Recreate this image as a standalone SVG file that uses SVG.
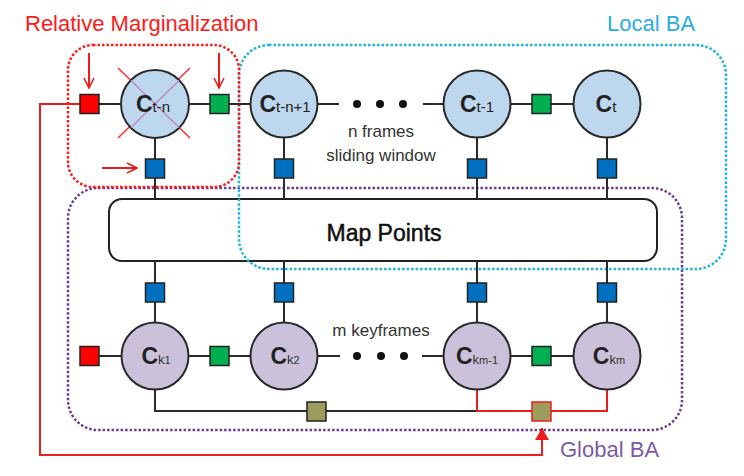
<svg xmlns="http://www.w3.org/2000/svg" width="744" height="476" viewBox="0 0 744 476">
<style>
text{font-family:"Liberation Sans",Arial,sans-serif;}
.ln{stroke:#2a2a2a;stroke-width:2;fill:none;}
.rl{stroke:#ee1c1c;stroke-width:2;fill:none;}
.cb{fill:#bdd7ee;stroke:#2a2a2a;stroke-width:2;}
.cp{fill:#ccc1da;stroke:#2a2a2a;stroke-width:2;}
.sq{stroke:#222;stroke-width:1.5;}
.red{fill:#ff0000;}
.grn{fill:#00b050;}
.blu{fill:#0070c0;}
.olv{fill:#9c9c5c;}
.C{font-size:23px;font-weight:bold;fill:#222;}
.s{font-size:15px;fill:#222;}
.sk{font-size:13px;fill:#333;}
.sm{font-size:11px;fill:#333;}
.lbl{font-size:17px;fill:#333;}
.dot{fill:#111;}
.dr{fill:none;stroke-width:2.5;stroke-dasharray:2.5 2;}
</style>
<defs>
<marker id="oa" viewBox="0 0 12 12" refX="11" refY="6" markerWidth="12" markerHeight="12" markerUnits="userSpaceOnUse" orient="auto">
<path d="M1,1 L11,6 L1,11" fill="none" stroke="#ee1c1c" stroke-width="1.6"/>
</marker>
<marker id="fa" viewBox="0 0 12 14" refX="12" refY="7" markerWidth="12" markerHeight="14" markerUnits="userSpaceOnUse" orient="auto">
<path d="M0,0 L12,7 L0,14 Z" fill="#ee1c1c"/>
</marker>
</defs>
<rect width="744" height="476" fill="#ffffff"/>

<g id="map-points">
<rect x="109" y="199" width="548" height="62" rx="13" fill="#fff" stroke="#222" stroke-width="2"/>
<text x="384" y="241" text-anchor="middle" font-size="23" fill="#111" stroke="#111" stroke-width="0.5">Map Points</text>
</g>

<g id="regions">
<rect id="global-ba" x="68" y="188" width="614" height="242" rx="30" class="dr" stroke="#6a3d9a"/>
<rect id="local-ba" x="239" y="45" width="487" height="224" rx="30" class="dr" stroke="#1cb4e0"/>
<rect id="rel-marg" x="68" y="45" width="171" height="142" rx="25" class="dr" stroke="#ff1a1a"/>
<text x="25" y="31" font-size="22" fill="#ff1a1a">Relative Marginalization</text>
<text x="607" y="31" font-size="22" fill="#29aee0">Local BA</text>
<text x="560" y="457" font-size="22" fill="#7d5aa8">Global BA</text>
</g>

<g id="connectors">
<line class="ln" x1="99" y1="104" x2="121" y2="104"/>
<line class="ln" x1="189" y1="104" x2="210" y2="104"/>
<line class="ln" x1="229" y1="104" x2="251" y2="104"/>
<line class="ln" x1="317" y1="104" x2="339" y2="104"/>
<line class="ln" x1="423" y1="104" x2="443" y2="104"/>
<line class="ln" x1="510" y1="104" x2="532" y2="104"/>
<line class="ln" x1="551" y1="104" x2="573" y2="104"/>
<path class="ln" d="M155,138 V159 M155,178 V199 M284,138 V159 M284,178 V199 M477,138 V159 M477,178 V199 M607,138 V159 M607,178 V199"/>
<path class="ln" d="M155,261 V283 M155,302 V323 M284,261 V283 M284,302 V323 M477,261 V283 M477,302 V323 M607,261 V283 M607,302 V323"/>
<line class="ln" x1="99" y1="356" x2="121" y2="356"/>
<line class="ln" x1="189" y1="356" x2="210" y2="356"/>
<line class="ln" x1="229" y1="356" x2="251" y2="356"/>
<line class="ln" x1="318" y1="356" x2="340" y2="356"/>
<line class="ln" x1="422" y1="356" x2="443" y2="356"/>
<line class="ln" x1="510" y1="356" x2="532" y2="356"/>
<line class="ln" x1="551" y1="356" x2="574" y2="356"/>
<path class="ln" d="M155,389 V411 H307 M326,411 H477"/>
<path class="rl" d="M477,389 V411 H532 M551,411 H607 V389"/>
<path class="rl" d="M80,104 H40 V455 H542 V428" marker-end="url(#fa)"/>
<line class="rl" stroke-width="1.6" x1="89" y1="53" x2="89" y2="88" marker-end="url(#oa)"/>
<line class="rl" stroke-width="1.6" x1="219" y1="53" x2="219" y2="88" marker-end="url(#oa)"/>
<line class="rl" stroke-width="1.6" x1="102" y1="168" x2="137" y2="168" marker-end="url(#oa)"/>
<circle class="dot" cx="357" cy="104" r="4"/><circle class="dot" cx="380" cy="104" r="4"/><circle class="dot" cx="403" cy="104" r="4"/>
<circle class="dot" cx="357" cy="356" r="4"/><circle class="dot" cx="381" cy="356" r="4"/><circle class="dot" cx="404" cy="356" r="4"/>
</g>

<g id="factors">
<rect class="sq red" x="80" y="94.5" width="19" height="19"/>
<rect class="sq grn" x="210" y="94.5" width="19" height="19"/>
<rect class="sq grn" x="532" y="94.5" width="19" height="19"/>
<rect class="sq blu" x="145.5" y="159" width="19" height="19"/>
<rect class="sq blu" x="274.5" y="159" width="19" height="19"/>
<rect class="sq blu" x="467.5" y="159" width="19" height="19"/>
<rect class="sq blu" x="597.5" y="159" width="19" height="19"/>
<rect class="sq blu" x="145.5" y="283" width="19" height="19"/>
<rect class="sq blu" x="274.5" y="283" width="19" height="19"/>
<rect class="sq blu" x="467.5" y="283" width="19" height="19"/>
<rect class="sq blu" x="597.5" y="283" width="19" height="19"/>
<rect class="sq red" x="80" y="346.5" width="19" height="19"/>
<rect class="sq grn" x="210" y="346.5" width="19" height="19"/>
<rect class="sq grn" x="532" y="346.5" width="19" height="19"/>
<rect class="sq olv" x="307" y="402" width="19" height="19"/>
<rect class="olv" x="532" y="402" width="19" height="19" stroke="#ee1c1c" stroke-width="1.5"/>
</g>

<g id="node-ctn">
<path d="M118,68 L190,138 M190,68 L118,138" stroke="#ff3333" stroke-width="1.6"/>
<circle class="cb" cx="155" cy="104" r="34"/>
<path d="M131,80.5 L179,127.5 M179,80.5 L131,127.5" stroke="#b98fc6" stroke-width="1.6"/>
<text x="153" y="112" text-anchor="middle"><tspan class="C">C</tspan><tspan class="s">t-n</tspan></text>
</g>
<g id="node-ctn1">
<circle class="cb" cx="284" cy="104" r="33.5"/>
<text x="285" y="112" text-anchor="middle"><tspan class="C">C</tspan><tspan class="s">t-n+1</tspan></text>
</g>
<g id="node-ct1">
<circle class="cb" cx="477" cy="104" r="33.5"/>
<text x="477" y="112" text-anchor="middle"><tspan class="C">C</tspan><tspan class="s">t-1</tspan></text>
</g>
<g id="node-ct">
<circle class="cb" cx="607" cy="104" r="33.5"/>
<text x="606" y="112" text-anchor="middle"><tspan class="C">C</tspan><tspan class="s">t</tspan></text>
</g>

<g id="node-ck1">
<circle class="cp" cx="155" cy="356" r="33.5"/>
<text x="156" y="364" text-anchor="middle"><tspan class="C">C</tspan><tspan class="sk">k</tspan><tspan class="sm">1</tspan></text>
</g>
<g id="node-ck2">
<circle class="cp" cx="284" cy="356" r="33.5"/>
<text x="285" y="364" text-anchor="middle"><tspan class="C">C</tspan><tspan class="sk">k</tspan><tspan class="sm">2</tspan></text>
</g>
<g id="node-ckm1">
<circle class="cp" cx="477" cy="356" r="33.5"/>
<text x="477" y="364" text-anchor="middle"><tspan class="C">C</tspan><tspan class="sk">k</tspan><tspan class="sm">m-1</tspan></text>
</g>
<g id="node-ckm">
<circle class="cp" cx="607" cy="356" r="33.5"/>
<text x="609" y="364" text-anchor="middle"><tspan class="C">C</tspan><tspan class="sk">k</tspan><tspan class="sm">m</tspan></text>
</g>

<g id="labels">
<text class="lbl" x="381" y="137" text-anchor="middle">n frames</text>
<text class="lbl" x="381" y="161" text-anchor="middle">sliding window</text>
<text class="lbl" x="381" y="336" text-anchor="middle">m keyframes</text>
</g>
</svg>
